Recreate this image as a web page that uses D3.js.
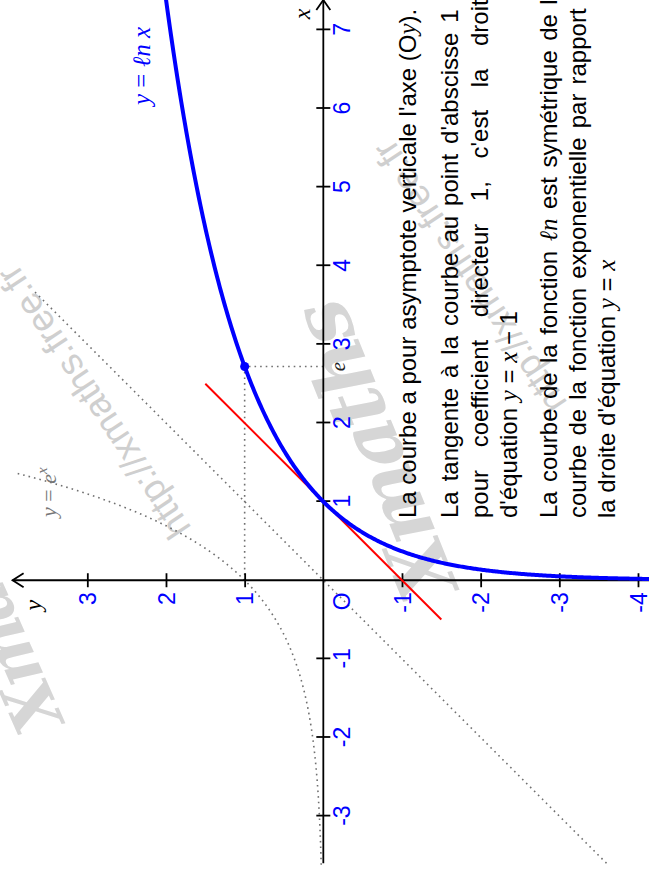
<!DOCTYPE html>
<html>
<head>
<meta charset="utf-8">
<script src="https://cdn.jsdelivr.net/npm/d3@7"></script>
<style>
    html, body { margin: 0; padding: 0; background: #fff; }
    svg { display: block; }
</style>
</head>
<body>
<svg id="chart"></svg>
<script>
const W = 649, H = 879;
// the figure is drawn landscape, then given a quarter turn to the left
const LW = H, LH = W;

// axes and ticks
const xDomain = [-3.8, 7.38];
const yDomain = [-4.14, 4.11];
const xTicks = [-3, -2, -1, 1, 2, 3, 4, 5, 6, 7];
const yTicks = [-4, -3, -2, -1, 1, 2, 3];
const xAxisExtent = [-3.6, 7.38];
const yAxisExtent = [-4.3, 3.95];

// curves (x ranges on which each one is drawn)
const lnRange = [-4.5, 2.0];          // ln x, with x = e^t
const expRange = [-3.62, 1.365];      // e^x
const identityRange = [-3.6, 3.7];    // y = x
const tangentRange = [-0.5, 2.5];     // y = x - 1
const markedPoint = [Math.E, 1];

// texts
const curveLabel = [["y", 1], [" = "], ["ℓn", 1], [" "], ["x", 1]];
const noteLines = [
    [["La courbe a pour asymptote verticale l'axe (O"], ["y", 1], [")."]],
    [["La tangente à la courbe au point d'abscisse 1 a"]],
    [["pour coefficient directeur 1, c'est la droite"]],
    [["d'équation "], ["y", 1], [" = "], ["x", 1], [" − 1"]],
    [["La courbe de la fonction "], ["ℓn", 1], [" est symétrique de la"]],
    [["courbe de la fonction exponentielle par rapport à"]],
    [["la droite d'équation "], ["y", 1], [" = "], ["x", 1]]
];
const justified = [false, true, true, false, true, true, false];
const watermarkUrl = "http://xmaths.free.fr";

const sansFont = "'Liberation Sans', Arial, Helvetica, sans-serif";
const mathFont = "'Liberation Serif', 'DejaVu Serif', 'Times New Roman', serif";

const svg = d3.select("#chart")
    .attr("width", W)
    .attr("height", H)
    .attr("font-family", sansFont);

// watermarks behind everything
svg.append("g")
    .selectAll("text.url")
    .data([[192, 528], [568, 403]])
    .enter().append("text")
    .attr("class", "url")
    .attr("transform", function (d) { return "translate(" + d[0] + "," + d[1] + ") rotate(-123.5)"; })
    .attr("font-size", 37)
    .attr("fill", "#cfcfcf")
    .text(watermarkUrl);

svg.append("g")
    .selectAll("text.logo")
    .data([[458, 586, -112, 78], [64, 720, -114, 66]])
    .enter().append("text")
    .attr("class", "logo")
    .attr("transform", function (d) { return "translate(" + d[0] + "," + d[1] + ") rotate(" + d[2] + ")"; })
    .attr("font-family", "'DejaVu Serif', serif")
    .attr("font-style", "italic")
    .attr("font-weight", "bold")
    .attr("font-size", function (d) { return d[3]; })
    .attr("letter-spacing", -3)
    .attr("fill", "#d6d6d6")
    .text("Xmaths");

const g = svg.append("g")
    .attr("transform", "translate(0," + H + ") rotate(-90)");

const x = d3.scaleLinear().domain(xDomain).range([0, LW]);
const y = d3.scaleLinear().domain(yDomain).range([LH, 0]);

const line = d3.line()
    .x(function (d) { return x(d[0]); })
    .y(function (d) { return y(d[1]); });

function sample(range, n, f) {
    return d3.range(n + 1).map(function (i) {
        const t = range[0] + (range[1] - range[0]) * i / n;
        return f(t);
    });
}

// dotted helpers
const dotted = g.append("g")
    .attr("fill", "none")
    .attr("stroke", "#707070")
    .attr("stroke-width", 1.6)
    .attr("stroke-dasharray", "1.6,4");

dotted.append("path")
    .attr("d", line(sample(identityRange, 2, function (t) { return [t, t]; })));

dotted.append("path")
    .attr("d", line(sample(expRange, 200, function (t) { return [t, Math.exp(t)]; })));

dotted.append("path")
    .attr("d", line([[markedPoint[0], 0], markedPoint, [0, markedPoint[1]]]));

// axes lines with open arrow heads
const axes = g.append("g")
    .attr("stroke", "#000")
    .attr("stroke-width", 1.8)
    .attr("fill", "none");

axes.append("line")
    .attr("x1", x(xAxisExtent[0])).attr("x2", x(xAxisExtent[1]))
    .attr("y1", y(0)).attr("y2", y(0));
axes.append("path")
    .attr("d", "M" + (x(xAxisExtent[1]) - 10) + "," + (y(0) - 7) +
        "L" + x(xAxisExtent[1]) + "," + y(0) +
        "L" + (x(xAxisExtent[1]) - 10) + "," + (y(0) + 7));

axes.append("line")
    .attr("x1", x(0)).attr("x2", x(0))
    .attr("y1", y(yAxisExtent[0])).attr("y2", y(yAxisExtent[1]));
axes.append("path")
    .attr("d", "M" + (x(0) - 7) + "," + (y(yAxisExtent[1]) + 11) +
        "L" + x(0) + "," + y(yAxisExtent[1]) +
        "L" + (x(0) + 7) + "," + (y(yAxisExtent[1]) + 11));

const plainFormat = function (d) { return String(d); };

// x axis ticks
const gx = g.append("g")
    .attr("transform", "translate(0," + y(0) + ")")
    .call(d3.axisBottom(x).tickValues(xTicks).tickFormat(plainFormat));
gx.select(".domain").remove();
gx.selectAll(".tick line")
    .attr("y1", -7).attr("y2", 7)
    .attr("stroke", "#000").attr("stroke-width", 1.8);
gx.selectAll(".tick text")
    .attr("y", 10).attr("dy", "0.72em")
    .attr("fill", "#0000ff")
    .attr("font-family", sansFont)
    .attr("font-size", 23);

// y axis ticks
const gy = g.append("g")
    .attr("transform", "translate(" + x(0) + ",0)")
    .call(d3.axisLeft(y).tickValues(yTicks).tickFormat(plainFormat));
gy.select(".domain").remove();
gy.selectAll(".tick line")
    .attr("x1", -7).attr("x2", 7)
    .attr("stroke", "#000").attr("stroke-width", 1.8);
gy.selectAll(".tick text")
    .attr("x", -12).attr("dy", "0.36em")
    .attr("fill", "#0000ff")
    .attr("font-family", sansFont)
    .attr("font-size", 23);

// origin
g.append("text")
    .attr("x", x(0) - 12).attr("y", y(0) + 10).attr("dy", "0.72em")
    .attr("text-anchor", "end")
    .attr("fill", "#0000ff")
    .attr("font-size", 23)
    .text("O");

// axis names
g.append("text")
    .attr("x", x(xAxisExtent[1]) - 14).attr("y", y(0) - 13)
    .attr("text-anchor", "middle")
    .attr("font-family", mathFont).attr("font-style", "italic")
    .attr("font-size", 24)
    .text("x");
g.append("text")
    .attr("x", x(0) - 25).attr("y", y(yAxisExtent[1]) + 28)
    .attr("text-anchor", "middle")
    .attr("font-family", mathFont).attr("font-style", "italic")
    .attr("font-size", 24)
    .text("y");

// tangent
g.append("path")
    .attr("d", line(sample(tangentRange, 1, function (t) { return [t, t - 1]; })))
    .attr("fill", "none")
    .attr("stroke", "#ff0000")
    .attr("stroke-width", 2);

// ln curve
g.append("path")
    .attr("d", line(sample(lnRange, 400, function (t) { return [Math.exp(t), t]; })))
    .attr("fill", "none")
    .attr("stroke", "#0000ff")
    .attr("stroke-width", 4);

g.append("circle")
    .attr("cx", x(markedPoint[0])).attr("cy", y(markedPoint[1]))
    .attr("r", 4.5)
    .attr("fill", "#0000ff");

// e label on the x axis
g.append("text")
    .attr("x", x(markedPoint[0])).attr("y", y(0) + 22)
    .attr("text-anchor", "middle")
    .attr("font-family", mathFont).attr("font-style", "italic")
    .attr("font-size", 21)
    .attr("fill", "#222")
    .text("e");

// curve names
const lnLabel = g.append("text")
    .attr("x", 774).attr("y", 150)
    .attr("fill", "#0000ff")
    .attr("font-family", mathFont)
    .attr("font-size", 25);
curveLabel.forEach(function (s) {
    const t = lnLabel.append("tspan").text(s[0]);
    if (s[1]) t.attr("font-style", "italic");
});

const expLabel = g.append("text")
    .attr("x", 362).attr("y", 56)
    .attr("fill", "#777")
    .attr("font-family", mathFont)
    .attr("font-size", 22);
expLabel.append("tspan").attr("font-style", "italic").text("y");
expLabel.append("tspan").text(" = ");
expLabel.append("tspan").attr("font-style", "italic").text("e");
expLabel.append("tspan").attr("font-style", "italic").attr("font-size", 15).attr("dy", -9).text("x");

// notes
const noteStart = 361;
const noteWidth = 532;
const noteBaselines = [416, 458, 488, 517, 557, 586, 615];

noteLines.forEach(function (segs, i) {
    const t = g.append("text")
        .attr("x", noteStart).attr("y", noteBaselines[i])
        .attr("font-size", 24)
        .attr("fill", "#000");
    segs.forEach(function (s) {
        const sp = t.append("tspan").text(s[0]);
        if (s[1]) sp.attr("font-family", mathFont).attr("font-style", "italic").attr("font-size", 25);
    });
    if (justified[i]) {
        const natural = t.node().getComputedTextLength();
        const full = segs.map(function (s) { return s[0]; }).join("");
        const gaps = full.split(" ").length - 1;
        if (gaps > 0 && natural < noteWidth) {
            t.style("word-spacing", ((noteWidth - natural) / gaps) + "px");
        }
    }
});
</script>
</body>
</html>
